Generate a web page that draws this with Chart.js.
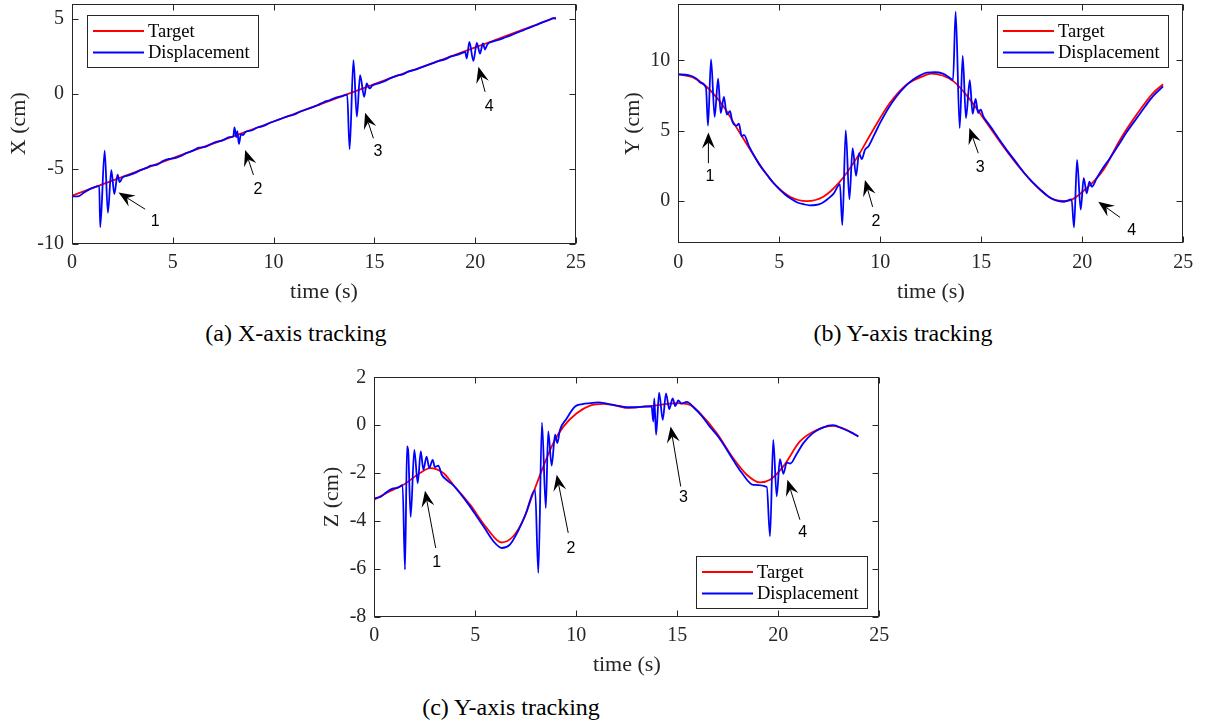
<!DOCTYPE html>
<html>
<head>
<meta charset="utf-8">
<script src="https://cdn.jsdelivr.net/npm/chart.js@4.4.0/dist/chart.umd.min.js"></script>
<style>
  body { margin: 0; background: #fff; width: 1205px; height: 724px; position: relative; overflow: hidden; }
  canvas { position: absolute; }
  .cap { position: absolute; font-family: "Liberation Serif", "Times New Roman", serif; font-size: 24px; line-height: 1; color: #000; transform: translateX(-50%); white-space: nowrap; }
</style>
</head>
<body>
<canvas id="chartA" width="600" height="310" style="left:0;top:0"></canvas>
<canvas id="chartB" width="605" height="310" style="left:600px;top:0"></canvas>
<canvas id="chartC" width="600" height="320" style="left:300px;top:360px"></canvas>
<div class="cap" style="left:296px;top:321px">(a) X-axis tracking</div>
<div class="cap" style="left:903px;top:321px">(b) Y-axis tracking</div>
<div class="cap" style="left:511px;top:695px">(c) Y-axis tracking</div>
<script>
// tick labels
const timeTicks = [0, 5, 10, 15, 20, 25];
const ticksA = [-10, -5, 0, 5];
const ticksB = [0, 5, 10];
const ticksC = [-8, -6, -4, -2, 0, 2];

// series, [time (s), value (cm)]
const targetA = [[0,-6.8],[2,-5.8],[4,-4.8],[6,-3.8],[8,-2.85],[10,-1.85],[12,-0.85],[14,0.15],[16,1.15],[18,2.1],[20,3.1],[22,4.1],[24,5.1]];
const dispA = [[0,-6.85],[0.3,-6.85],[0.6,-6.6],[0.9,-6.35],[1.2,-6.2],[1.35,-6.15],[1.4,-8.9],[1.62,-3.8],[1.78,-7.95],[1.95,-5.1],[2.1,-6.7],[2.26,-5.4],[2.36,-5.9],[2.5,-5.6],
  [2.8,-5.45],[3.1,-5.3],[3.4,-5.1],[3.7,-4.95],[3.9,-4.8],[4.2,-4.75],[4.5,-4.5],[4.8,-4.35],[5.1,-4.3],[5.4,-4.15],[5.7,-3.95],[6.0,-3.8],[6.3,-3.6],[6.6,-3.55],[6.9,-3.35],
  [7.2,-3.2],[7.5,-3.1],[7.8,-2.9],[8.0,-2.85],[8.06,-2.25],[8.15,-2.9],[8.2,-2.5],[8.28,-3.35],[8.38,-2.7],[8.48,-2.75],[8.6,-2.55],[8.9,-2.45],[9.2,-2.25],[9.5,-2.15],
  [9.8,-1.95],[10.1,-1.8],[10.4,-1.65],[10.7,-1.5],[11.0,-1.4],[11.3,-1.2],[11.6,-1.05],[11.9,-0.9],[12.2,-0.75],[12.5,-0.55],[12.8,-0.42],[13.1,-0.25],[13.4,-0.15],
  [13.65,-0.05],[13.77,-3.7],[13.96,2.25],[14.13,-1.53],[14.29,1.25],[14.49,-0.2],[14.62,0.69],[14.76,0.36],[14.9,0.55],[15.2,0.7],[15.5,0.85],[15.8,1.05],[16.1,1.2],
  [16.4,1.3],[16.7,1.5],[17.0,1.6],[17.3,1.75],[17.6,1.9],[17.9,2.05],[18.2,2.2],[18.5,2.3],[18.8,2.5],[19.1,2.6],[19.4,2.75],[19.5,2.8],[19.58,2.36],[19.71,3.47],
  [19.91,2.2],[20.08,3.4],[20.24,2.69],[20.38,3.36],[20.49,2.96],[20.6,3.3],[20.9,3.5],[21.2,3.62],[21.5,3.78],[21.8,3.92],[22.1,4.1],[22.4,4.25],[22.7,4.42],[23.0,4.58],
  [23.3,4.75],[23.6,4.9],[23.9,5.05],[24.0,5.0]];

const targetB = [[0,9.0],[0.7,8.8],[1.4,8.12],[2.23,6.74],[3.05,4.83],[3.88,2.93],[4.7,1.31],[5.53,0.31],[6.36,0.0],[7.18,0.31],[8.0,1.38],[8.83,3.05],[9.65,5.07],
  [10.48,6.98],[11.31,8.29],[12.13,8.88],[12.5,9.05],[13.61,8.52],[14.44,7.21],[15.27,5.55],[16.09,3.88],[16.92,2.33],[17.74,1.02],[18.56,0.12],[19.22,0.0],[20.2,0.9],
  [21.04,2.21],[21.87,4.36],[22.69,6.14],[23.51,7.69],[24.0,8.3]];
const dispB = [[0,9.0],[0.5,8.95],[0.9,8.7],[1.1,8.4],[1.37,8.05],[1.47,5.36],[1.62,10.07],[1.8,5.98],[1.97,8.69],[2.1,6.26],[2.26,7.4],[2.4,6.14],[2.56,6.38],[2.67,5.67],
  [2.89,5.36],[3.0,5.5],[3.14,4.6],[3.25,4.7],[3.5,3.9],[3.8,3.1],[4.1,2.4],[4.4,1.85],[4.7,1.3],[5.0,0.85],[5.3,0.45],[5.6,0.15],[5.9,-0.1],[6.2,-0.22],[6.5,-0.3],
  [6.8,-0.28],[7.1,-0.15],[7.4,0.15],[7.7,0.55],[8.0,1.21],[8.12,-1.71],[8.29,5.02],[8.47,0.12],[8.63,3.76],[8.8,1.79],[8.95,3.4],[9.08,2.98],[9.24,3.64],[9.41,3.88],
  [9.7,4.7],[9.99,5.55],[10.4,6.6],[10.81,7.45],[11.2,8.1],[11.63,8.64],[12.0,8.95],[12.3,9.12],[12.7,9.15],[13.1,9.05],[13.4,8.8],[13.6,8.6],[13.73,13.45],[13.93,5.19],
  [14.08,10.31],[14.24,5.9],[14.43,8.59],[14.57,6.21],[14.72,7.26],[14.84,6.26],[14.97,6.5],[15.1,6.02],[15.3,5.6],[15.6,5.0],[15.9,4.35],[16.3,3.55],[16.7,2.8],
  [17.1,2.05],[17.5,1.4],[17.9,0.85],[18.3,0.35],[18.7,0.05],[19.06,-0.05],[19.47,0.12],[19.59,-1.88],[19.74,2.93],[19.92,-0.6],[20.07,1.62],[20.22,0.55],[20.35,1.38],
  [20.47,1.02],[20.71,1.62],[20.96,2.21],[21.37,3.05],[21.8,4.0],[22.2,4.9],[22.7,5.9],[23.1,6.7],[23.5,7.45],[24.0,8.15]];

const targetC = [[0,-3.11],[0.61,-2.83],[1.44,-2.49],[2.26,-2.0],[2.76,-1.79],[3.42,-2.0],[3.91,-2.49],[4.74,-3.32],[5.56,-4.29],[6.3,-4.9],[6.88,-4.64],[7.38,-3.95],
  [7.87,-2.83],[8.37,-1.72],[8.86,-0.75],[9.36,-0.06],[10.02,0.5],[10.68,0.82],[11.34,0.89],[12.16,0.78],[12.49,0.72],[13.65,0.8],[14.97,0.92],[15.63,0.85],[16.12,0.5],
  [16.95,-0.33],[17.77,-1.38],[18.44,-2.07],[19.09,-2.39],[19.59,-2.28],[20.25,-1.72],[21.07,-0.68],[21.9,-0.2],[22.72,-0.03],[23.39,-0.2],[23.96,-0.47]];
const dispC = [[0,-3.05],[0.3,-3.0],[0.6,-2.8],[0.9,-2.65],[1.2,-2.6],[1.4,-2.5],[1.52,-6.03],[1.62,-0.89],[1.68,-1.1],[1.8,-3.83],[1.98,-1.03],[2.15,-2.42],[2.3,-1.1],
  [2.43,-1.86],[2.59,-1.31],[2.72,-1.79],[2.89,-1.45],[3.0,-1.75],[3.17,-1.69],[3.34,-2.07],[3.6,-2.3],[3.9,-2.5],[4.3,-2.9],[4.7,-3.35],[5.1,-3.85],[5.5,-4.35],
  [5.9,-4.85],[6.31,-5.13],[6.7,-5.0],[7.1,-4.45],[7.5,-3.7],[7.96,-2.7],[8.12,-6.17],[8.3,0.11],[8.49,-3.46],[8.61,-0.26],[8.78,-1.69],[8.95,-0.4],[9.06,-0.75],
  [9.19,-0.2],[9.5,0.25],[9.94,0.78],[10.3,0.88],[10.7,0.92],[11.1,0.95],[11.5,0.9],[12.0,0.82],[12.5,0.75],[13.0,0.75],[13.4,0.78],[13.73,0.78],[13.81,0.15],[13.86,1.12],
  [13.95,-0.4],[14.1,1.36],[14.28,0.22],[14.44,1.33],[14.6,0.67],[14.77,1.12],[14.9,0.8],[15.05,1.03],[15.2,0.9],[15.47,0.97],[15.8,0.75],[16.2,0.4],[16.6,-0.05],
  [17.0,-0.45],[17.4,-0.95],[17.8,-1.5],[18.2,-2.0],[18.76,-2.49],[19.43,-2.58],[19.59,-4.64],[19.75,-0.61],[19.92,-2.97],[20.08,-1.42],[20.25,-2.03],[20.42,-1.56],
  [20.6,-1.6],[20.91,-1.2],[21.24,-0.75],[21.73,-0.32],[22.2,-0.1],[22.7,0.0],[23.2,-0.15],[23.6,-0.3],[23.96,-0.47]];

// numbered arrows, in data units
const arrowsA = [
  {n: '1', tip: [2.31, -6.6], tail: [3.63, -7.71], label: [4.13, -8.53]},
  {n: '2', tip: [8.59, -3.75], tail: [9.0, -5.42], label: [9.22, -6.42]},
  {n: '3', tip: [14.54, -1.27], tail: [14.95, -2.97], label: [15.17, -3.87]},
  {n: '4', tip: [20.16, 1.8], tail: [20.49, 0.13], label: [20.7, -0.87]}
];
const arrowsB = [
  {n: '1', tip: [1.49, 4.88], tail: [1.49, 2.69], label: [1.57, 1.74]},
  {n: '2', tip: [9.24, 1.5], tail: [9.62, -0.41], label: [9.79, -1.48]},
  {n: '3', tip: [14.41, 5.19], tail: [14.85, 3.4], label: [14.94, 2.41]},
  {n: '4', tip: [20.79, -0.05], tail: [21.87, -1.16], label: [22.44, -2.07]}
];
const arrowsC = [
  {n: '1', tip: [2.51, -2.74], tail: [3.04, -5.13], label: [3.09, -5.72]},
  {n: '2', tip: [9.03, -2.07], tail: [9.6, -4.5], label: [9.74, -5.17]},
  {n: '3', tip: [14.67, -0.06], tail: [15.17, -2.56], label: [15.3, -3.04]},
  {n: '4', tip: [20.45, -2.28], tail: [21.07, -3.95], label: [21.21, -4.5]}
];

const serif = '"Liberation Serif", "Times New Roman", serif';
const ink = '#262626';
const extras = {};

function toPoints(pairs){
	return pairs.map(p => ({x: p[0], y: p[1]}));
}

function drawArrow(ctx, xs, ys, ar){
	const tx = xs.getPixelForValue(ar.tip[0]), ty = ys.getPixelForValue(ar.tip[1]);
	const bx = xs.getPixelForValue(ar.tail[0]), by = ys.getPixelForValue(ar.tail[1]);
	const ang = Math.atan2(ty - by, tx - bx);
	const ux = Math.cos(ang), uy = Math.sin(ang);
	const len = 16, half = 6.5, notch = 10;
	ctx.strokeStyle = '#000';
	ctx.lineWidth = 1;
	ctx.beginPath();
	ctx.moveTo(bx, by);
	ctx.lineTo(tx - ux*notch, ty - uy*notch);
	ctx.stroke();
	ctx.fillStyle = '#000';
	ctx.beginPath();
	ctx.moveTo(tx, ty);
	ctx.lineTo(tx - ux*len - uy*half, ty - uy*len + ux*half);
	ctx.lineTo(tx - ux*notch, ty - uy*notch);
	ctx.lineTo(tx - ux*len + uy*half, ty - uy*len - ux*half);
	ctx.closePath();
	ctx.fill();
	ctx.font = '16px "Liberation Sans", Arial, sans-serif';
	ctx.textAlign = 'center';
	ctx.textBaseline = 'middle';
	ctx.fillText(ar.n, xs.getPixelForValue(ar.label[0]), ys.getPixelForValue(ar.label[1]));
}

function drawLegend(chart, spot){
	const ctx = chart.ctx, a = chart.chartArea;
	const w = 171, h = 52;
	const x = Math.round(spot.left ? a.left + spot.dx : a.right - spot.dx - w);
	const y = Math.round(spot.top ? a.top + spot.dy : a.bottom - spot.dy - h);
	ctx.fillStyle = '#fff';
	ctx.fillRect(x, y, w, h);
	ctx.strokeStyle = ink;
	ctx.lineWidth = 1;
	ctx.strokeRect(x + 0.5, y + 0.5, w, h);
	chart.data.datasets.forEach((ds, i) => {
		const ry = y + 16 + i*21.5;
		ctx.strokeStyle = ds.borderColor;
		ctx.lineWidth = ds.borderWidth;
		ctx.beginPath();
		ctx.moveTo(x + 6, ry);
		ctx.lineTo(x + 57, ry);
		ctx.stroke();
		ctx.fillStyle = '#000';
		ctx.font = '18.5px ' + serif;
		ctx.textAlign = 'left';
		ctx.textBaseline = 'middle';
		ctx.fillText(ds.label, x + 61, ry + 1);
	});
}

// matlab style box: frame, inward ticks on all sides, arrows, legend
const boxPlugin = {
	id: 'box',
	afterDatasetsDraw(chart){
		const ex = extras[chart.canvas.id];
		const ctx = chart.ctx, a = chart.chartArea;
		const xs = chart.scales.x, ys = chart.scales.y;
		ctx.save();
		const L = Math.round(a.left) + 0.5, R = Math.round(a.right) - 0.5;
		const T = Math.round(a.top) + 0.5, B = Math.round(a.bottom) - 0.5;
		ctx.strokeStyle = ink;
		ctx.lineWidth = 1;
		ctx.strokeRect(L, T, R - L, B - T);
		ctx.beginPath();
		xs.ticks.forEach(t => {
			const p = Math.round(xs.getPixelForValue(t.value)) + 0.5;
			ctx.moveTo(p, B); ctx.lineTo(p, B - 6);
			ctx.moveTo(p, T); ctx.lineTo(p, T + 6);
		});
		ys.ticks.forEach(t => {
			const p = Math.round(ys.getPixelForValue(t.value)) + 0.5;
			ctx.moveTo(L, p); ctx.lineTo(L + 6, p);
			ctx.moveTo(R, p); ctx.lineTo(R - 6, p);
		});
		ctx.stroke();
		ex.arrows.forEach(ar => drawArrow(ctx, xs, ys, ar));
		drawLegend(chart, ex.legend);
		ctx.restore();
	}
};

function trackChart(id, opt){
	extras[id] = {arrows: opt.arrows, legend: opt.legend};
	const tickFont = {family: serif, size: 20};
	const titleFont = {family: serif, size: 22};
	const config = {
		type: 'line',
		data: {
			datasets: [{
				label: 'Target',
				data: toPoints(opt.target),
				borderColor: '#ff0000',
				borderWidth: 1.8,
				pointRadius: 0,
				cubicInterpolationMode: 'monotone',
				order: 1
			}, {
				label: 'Displacement',
				data: toPoints(opt.disp),
				borderColor: '#0000ff',
				borderWidth: 1.8,
				pointRadius: 0,
				cubicInterpolationMode: 'monotone',
				order: 0
			}]
		},
		options: {
			responsive: false,
			animation: false,
			devicePixelRatio: 1,
			layout: {padding: opt.pad},
			plugins: {legend: {display: false}, tooltip: {enabled: false}},
			scales: {
				x: {
					type: 'linear', min: 0, max: 25,
					afterBuildTicks: s => { s.ticks = timeTicks.map(v => ({value: v})); },
					afterFit: s => { s.height = opt.xh; s.paddingLeft = 0; s.paddingRight = 0; },
					grid: {display: false, drawTicks: false},
					border: {display: false},
					ticks: {padding: 7, font: tickFont, color: ink, maxRotation: 0},
					title: {display: true, text: 'time (s)', font: titleFont, color: ink, padding: {top: 0, bottom: opt.xtPad}}
				},
				y: {
					type: 'linear', min: opt.ymin, max: opt.ymax,
					afterBuildTicks: s => { s.ticks = opt.yticks.map(v => ({value: v})); },
					afterFit: s => { s.width = opt.yw; s.paddingTop = 0; s.paddingBottom = 0; },
					grid: {display: false, drawTicks: false},
					border: {display: false},
					ticks: {padding: 8, font: tickFont, color: ink},
					title: {display: true, text: opt.ytitle, font: titleFont, color: ink, padding: {top: opt.ytPad, bottom: 0}}
				}
			}
		},
		plugins: [boxPlugin]
	};
	let ctx = document.getElementById(id).getContext('2d');
	new Chart(ctx, config);
}

trackChart('chartA', {
	target: targetA, disp: dispA, arrows: arrowsA, yticks: ticksA, ymin: -10, ymax: 6, ytitle: 'X (cm)',
	pad: {left: 0, right: 24, top: 4, bottom: 0}, yw: 72, xh: 66.5, xtPad: 4.8, ytPad: 5.8,
	legend: {left: true, top: true, dx: 14.5, dy: 11}
});
trackChart('chartB', {
	target: targetB, disp: dispB, arrows: arrowsB, yticks: ticksB, ymin: -3, ymax: 14, ytitle: 'Y (cm)',
	pad: {left: 0, right: 21.7, top: 4, bottom: 0}, yw: 78.3, xh: 66.7, xtPad: 4.8, ytPad: 19.8,
	legend: {left: false, top: true, dx: 15, dy: 11}
});
trackChart('chartC', {
	target: targetC, disp: dispC, arrows: arrowsC, yticks: ticksC, ymin: -8, ymax: 2, ytitle: 'Z (cm)',
	pad: {left: 0, right: 20.7, top: 17.3, bottom: 0}, yw: 74.3, xh: 63.3, xtPad: 1.8, ytPad: 18.8,
	legend: {left: false, top: false, dx: 12.5, dy: 9}
});
</script>
</body>
</html>
